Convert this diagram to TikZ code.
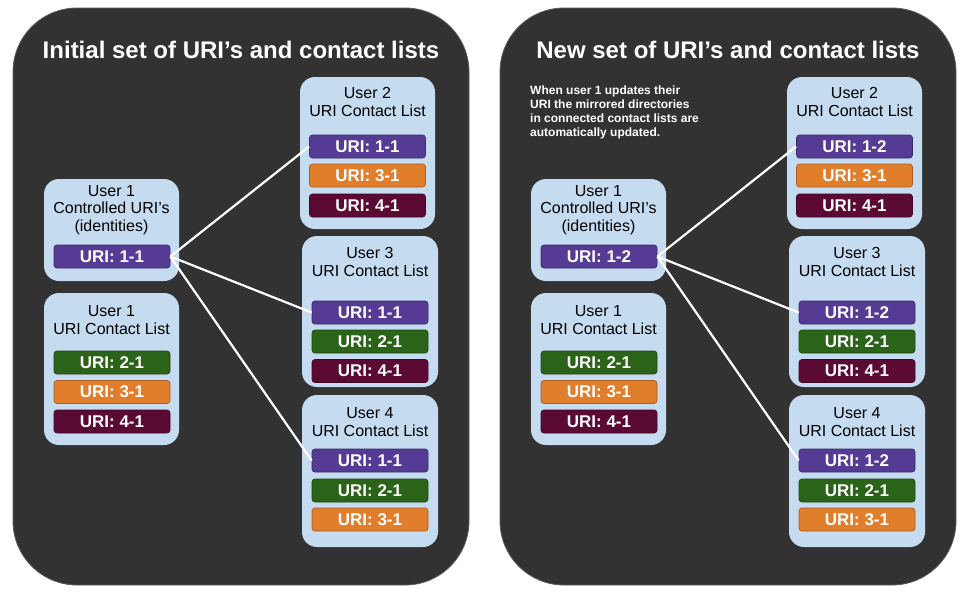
\documentclass[tikz,border=0pt]{standalone}
\usepackage{fontspec}
\setmainfont{Liberation Sans}
\definecolor{panelbg}{HTML}{323232}
\definecolor{paneledge}{HTML}{5A5A5A}
\definecolor{boxblue}{HTML}{C5DBEF}
\definecolor{cpur}{HTML}{553B94}
\definecolor{corg}{HTML}{E07E2C}
\definecolor{cgrn}{HTML}{2B6318}
\definecolor{cmar}{HTML}{5B0A34}
\tikzset{
  panel/.style={fill=panelbg, draw=paneledge, line width=0.8pt, rounded corners=64pt,
    minimum width=456pt, minimum height=577pt, inner sep=0pt},
  ttl/.style={text=white, font=\bfseries\fontsize{24}{28}\selectfont, anchor=base, inner sep=0pt},
  ubox/.style={fill=boxblue, rounded corners=15pt, inner sep=0pt, minimum width=135pt},
  lbl/.style={font=\fontsize{16}{18}\selectfont, anchor=base, inner sep=0pt, text=black},
  uri/.style={rounded corners=3pt, minimum width=116pt, minimum height=23pt, inner sep=0pt,
    text=white, font=\bfseries\fontsize{17}{20}\selectfont, line width=0.7pt},
  upur/.style={uri, fill=cpur, draw=cpur!70!black},
  uorg/.style={uri, fill=corg, draw=corg!75!black},
  ugrn/.style={uri, fill=cgrn, draw=cgrn!70!black},
  umar/.style={uri, fill=cmar, draw=cmar!70!black},
  link/.style={draw=white, line width=2.2pt},
  note/.style={text=white, font=\bfseries\fontsize{12}{13.9}\selectfont, align=left,
    anchor=north west, inner sep=0pt}
}
\newcommand\panelcontent[3]{%
  \node[panel] (#1pan) at (241,296.5) {};
  \node[ttl] (#1ttl) at (241,58) {#2};
  % User 1 controlled
  \node[ubox, minimum height=102pt] (#1b1c) at (111.5,230) {};
  \node[lbl] (#1b1ca) at (111.5,196) {User 1};
  \node[lbl] (#1b1cb) at (111.5,213.5) {Controlled URI’s};
  \node[lbl] (#1b1cc) at (111.5,231.5) {(identities)};
  \node[upur] (#1own) at (112,256.5) {URI: #3};
  % User 1 list
  \node[ubox, minimum height=152pt] (#1b1l) at (111.5,369) {};
  \node[lbl] (#1b1la) at (111.5,316.7) {User 1};
  \node[lbl] (#1b1lb) at (111.5,334.3) {URI Contact List};
  \node[ugrn] (#1l1a) at (112,362.5) {URI: 2-1};
  \node[uorg] (#1l1b) at (112,392) {URI: 3-1};
  \node[umar] (#1l1c) at (112,421.5) {URI: 4-1};
  % User 2
  \node[ubox, minimum height=152pt] (#1b2) at (367.5,153) {};
  \node[lbl] (#1b2a) at (367.5,98.7) {User 2};
  \node[lbl] (#1b2b) at (367.5,116.3) {URI Contact List};
  \node[upur] (#1l2a) at (367.5,146.5) {URI: #3};
  \node[uorg] (#1l2b) at (367.5,175.5) {URI: 3-1};
  \node[umar] (#1l2c) at (367.5,205.5) {URI: 4-1};
  % User 3
  \node[ubox, minimum width=136pt, minimum height=151pt] (#1b3) at (370,311.5) {};
  \node[lbl] (#1b3a) at (370,258.3) {User 3};
  \node[lbl] (#1b3b) at (370,276) {URI Contact List};
  \node[upur] (#1l3a) at (370,312.5) {URI: #3};
  \node[ugrn] (#1l3b) at (370,341.5) {URI: 2-1};
  \node[umar] (#1l3c) at (370,371) {URI: 4-1};
  % User 4
  \node[ubox, minimum width=136pt, minimum height=152pt] (#1b4) at (370,471) {};
  \node[lbl] (#1b4a) at (370,418.7) {User 4};
  \node[lbl] (#1b4b) at (370,436.3) {URI Contact List};
  \node[upur] (#1l4a) at (370,460.5) {URI: #3};
  \node[ugrn] (#1l4b) at (370,490.5) {URI: 2-1};
  \node[uorg] (#1l4c) at (370,519.5) {URI: 3-1};
  % links
  \draw[link] (#1own.east) -- (#1l2a.west);
  \draw[link] (#1own.east) -- (#1l3a.west);
  \draw[link] (#1own.east) -- (#1l4a.west);
}
\begin{document}
\begin{tikzpicture}[x=1pt,y=-1pt]
  \useasboundingbox (0,0) rectangle (973,592);
  \fill[white] (0,0) rectangle (973,592);
  \begin{scope}
    \panelcontent{L}{Initial set of URI’s and contact lists}{1-1}
  \end{scope}
  \begin{scope}[xshift=487pt]
    \panelcontent{R}{New set of URI’s and contact lists}{1-2}
    \node[note] (Rnote) at (43,86) {When user 1 updates their\\URI the mirrored directories\\in connected contact lists are\\automatically updated.};
  \end{scope}
\end{tikzpicture}
\end{document}
